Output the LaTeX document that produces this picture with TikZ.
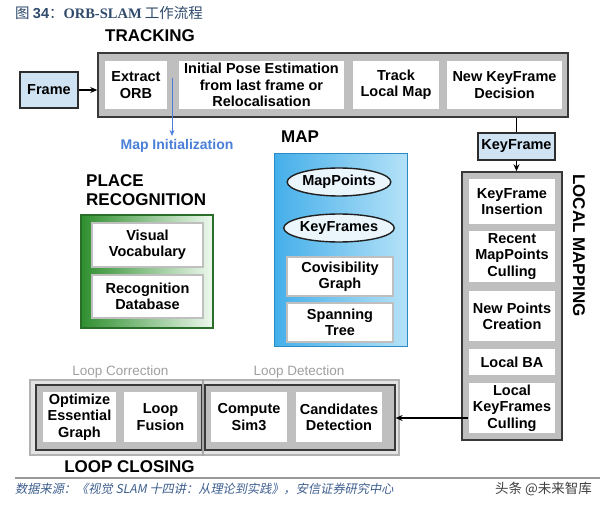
\documentclass[tikz,border=0pt]{standalone}
\usepackage{fontspec}
\setmainfont{Liberation Sans}
\newfontfamily\cjk{Noto Sans CJK SC}
\newfontfamily\cjkit[FakeSlant=0.2]{Noto Sans CJK SC}
\newfontfamily\serifb{Liberation Serif}
\usetikzlibrary{shapes.geometric,arrows.meta}
\definecolor{titleblue}{HTML}{2F4A6B}
\definecolor{srcblue}{HTML}{3D5E8E}
\definecolor{frameblue}{HTML}{CFE3F3}
\definecolor{mapdark}{HTML}{45AFEA}
\definecolor{maplight}{HTML}{B5E2F7}
\definecolor{mapborder}{HTML}{2A8AC4}
\definecolor{ellfill}{HTML}{EAF5FC}
\definecolor{grdark}{HTML}{2F8F2F}
\definecolor{grlight}{HTML}{EEF8EE}
\definecolor{grborder}{HTML}{2A6E2A}
\definecolor{initblue}{HTML}{4A7FD8}
\begin{document}
\begin{tikzpicture}[x=1pt,y=-1pt,
  txt/.style={font=\bfseries\fontsize{14.5}{16.3}\selectfont, align=center},
  ibox/.style={txt, draw=gray!30!black, line width=0.9pt, double=gray!50, double distance=1.1pt, fill=white, inner sep=0.5pt},
  lcbox/.style={ibox, draw=black!55!red!60!gray},
  bluebox/.style={txt, draw=gray!35!black, line width=1.5pt, fill=frameblue, inner sep=1pt},
  outerbox/.style={draw=gray!45!black, line width=1.5pt, fill=gray!50},
  head/.style={font=\bfseries\fontsize{17}{19}\selectfont},
  ell/.style={ellipse, txt, draw=gray!25!black, line width=1.4pt, fill=ellfill, inner sep=0pt},
  arr/.style={-{Stealth[length=7pt,width=6pt]}, line width=1.5pt}
]
\useasboundingbox (0,0) rectangle (600,505);

% title
\node[anchor=west, text=titleblue, inner sep=0] (title) at (15,13)
  {\cjk\fontsize{14.5}{16}\selectfont 图 {\fontspec{Liberation Sans}\bfseries 34}：{\serifb\bfseries ORB-SLAM} 工作流程};

% TRACKING
\node[head] (trackhead) at (150,36) {TRACKING};
\node[outerbox, minimum width=470, minimum height=64] (trk) at (333,85) {};
\node[ibox, minimum width=64, minimum height=50] (eorb) at (136,85) {Extract\\ORB};
\node[ibox, minimum width=167, minimum height=50] (ipe) at (261.5,85) {Initial Pose Estimation\\from last frame or\\Relocalisation};
\node[ibox, minimum width=88, minimum height=50] (tlm) at (396,85) {Track\\Local Map};
\node[ibox, minimum width=117, minimum height=50] (nkd) at (504.5,85) {New KeyFrame\\Decision};
\node[bluebox, minimum width=58, minimum height=36] (frame) at (49,90) {Frame};
\draw[arr] (frame.east) -- (trk.west |- frame.east);

% map initialization
\node[text=initblue, font=\bfseries\fontsize{14}{16}\selectfont] (minit) at (177,146) {Map Initialization};
\coordinate (mi) at (172,78);
\draw[initblue, line width=0.8pt, -{Stealth[length=6pt,width=5pt]}] (mi) -- (mi |- minit.north);

% KeyFrame
\node[bluebox, minimum width=77, minimum height=27] (kf) at (516.5,146.5) {KeyFrame};
\draw[line width=1.5pt] (kf.north |- trk.south) -- (kf.north);

% LOCAL MAPPING
\node[outerbox, minimum width=100, minimum height=268] (lm) at (512,306) {};
\draw[arr] (kf.south) -- (kf.south |- lm.north);
\node[ibox, minimum width=88, minimum height=47] (kfi) at (512,201.5) {KeyFrame\\Insertion};
\node[ibox, minimum width=88, minimum height=53] (rmc) at (512,256.5) {Recent\\MapPoints\\Culling};
\node[ibox, minimum width=88, minimum height=52] (npc) at (512,316) {New Points\\Creation};
\node[ibox, minimum width=88, minimum height=28] (lba) at (512,362) {Local BA};
\node[ibox, minimum width=88, minimum height=52] (lkc) at (512,408) {Local\\KeyFrames\\Culling};
\node[head, rotate=-90] (lmhead) at (579,245.5) {LOCAL MAPPING};

% MAP
\node[head] (maphead) at (300,137) {MAP};
\node[draw=mapborder, line width=1.5pt, left color=mapdark, right color=maplight,
      minimum width=133, minimum height=193] (map) at (341,250) {};
\node[ell, minimum width=100, minimum height=28] (mp) at (339,182) {MapPoints};
\node[ell, minimum width=100, minimum height=28] (kfs) at (339,228) {KeyFrames};
\node[ibox, minimum width=106, minimum height=39] (cov) at (340,276.5) {Covisibility\\Graph};
\node[ibox, minimum width=106, minimum height=39] (spt) at (340,322.5) {Spanning\\Tree};

% PLACE RECOGNITION
\node[head, anchor=north west, align=left, inner sep=0] (prhead) at (86,174) {PLACE\\RECOGNITION};
\node[draw=grborder, line width=1.5pt, left color=grdark, right color=grlight,
      minimum width=132, minimum height=113] (pr) at (147,271.5) {};
\node[ibox, minimum width=111, minimum height=44] (vv) at (147.5,245) {Visual\\Vocabulary};
\node[ibox, minimum width=111, minimum height=43] (rdb) at (147.5,296.5) {Recognition\\Database};

% LOOP CLOSING
\node[draw=gray!60, line width=1.2pt, fill=gray!22, minimum width=369, minimum height=75] (lc) at (214.5,417.5) {};
\node[draw=gray!45!black, line width=1.2pt, fill=gray!50, minimum width=166, minimum height=65] (lcl) at (119,417.5) {};
\node[draw=gray!45!black, line width=1.2pt, fill=gray!50, minimum width=190, minimum height=65] (lcr) at (300,417.5) {};
\draw[gray!70, line width=1.2pt] (lc.north -| 203,0) -- (lc.south -| 203,0);
\node[lcbox, minimum width=75, minimum height=52] (oeg) at (79.5,417) {Optimize\\Essential\\Graph};
\node[lcbox, minimum width=75, minimum height=52] (lf) at (160.5,417) {Loop\\Fusion};
\node[lcbox, minimum width=78, minimum height=52] (cs3) at (249,417) {Compute\\Sim3};
\node[lcbox, minimum width=88, minimum height=52] (cd) at (339,417) {Candidates\\Detection};
\node[text=gray!75, font=\fontsize{13.5}{15}\selectfont] (lcorr) at (120.5,372) {Loop Correction};
\node[text=gray!75, font=\fontsize{13.5}{15}\selectfont] (ldet) at (299,372) {Loop Detection};
\node[head] (lchead) at (129.5,467) {LOOP CLOSING};
\draw[arr] ([yshift=-10pt]lkc.west) -- ([yshift=-10pt]lkc.west -| lcr.east);

% footer
\draw[gray!80, line width=1.5pt] (15,478) -- (600,478);
\node[anchor=west, text=srcblue, inner sep=0] (src) at (15,489)
  {\cjkit\fontsize{12.2}{14}\selectfont 数据来源：《视觉 SLAM 十四讲：从理论到实践》，安信证券研究中心};
\node[anchor=east, text=gray!50!black, inner sep=0] (wm) at (592,489)
  {\cjk\fontsize{13.5}{15}\selectfont 头条 @未来智库};
\end{tikzpicture}
\end{document}
